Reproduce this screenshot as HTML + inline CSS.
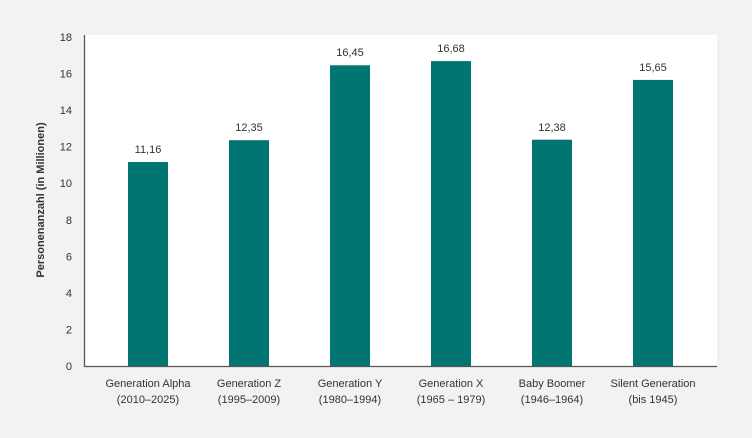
<!DOCTYPE html>
<html><head><meta charset="utf-8"><style>
html,body{margin:0;padding:0;background:#f3f2f0;}
svg{display:block;font-family:"Liberation Sans",sans-serif;}
</style></head><body>
<svg width="752" height="438" viewBox="0 0 752 438" xmlns="http://www.w3.org/2000/svg">
<rect x="0" y="0" width="752" height="438" fill="#f3f2f0"/>
<rect x="84" y="35" width="633" height="331" fill="#fff"/>
<g fill="#007572">
<rect x="128" y="162" width="40" height="204"/>
<rect x="229" y="140.2" width="40" height="225.8"/>
<rect x="330" y="65.3" width="40" height="300.7"/>
<rect x="431" y="61.1" width="40" height="304.9"/>
<rect x="532" y="139.7" width="40" height="226.3"/>
<rect x="633" y="79.9" width="40" height="286.1"/>
</g>
<path d="M84.5 35V366.5H717" stroke="#555" stroke-width="1.3" fill="none"/>
<g font-size="11" fill="#333" text-anchor="end">
<text x="72" y="370">0</text><text x="72" y="333.4">2</text><text x="72" y="296.9">4</text>
<text x="72" y="260.3">6</text><text x="72" y="223.8">8</text><text x="72" y="187.2">10</text>
<text x="72" y="150.7">12</text><text x="72" y="114.1">14</text><text x="72" y="77.6">16</text><text x="72" y="41">18</text>
</g>
<g font-size="11" fill="#333" text-anchor="middle">
<text x="148" y="153">11,16</text><text x="249" y="131">12,35</text><text x="350" y="56">16,45</text>
<text x="451" y="52">16,68</text><text x="552" y="131">12,38</text><text x="653" y="71">15,65</text>
<text x="148" y="387">Generation Alpha</text><text x="148" y="403">(2010–2025)</text>
<text x="249" y="387">Generation Z</text><text x="249" y="403">(1995–2009)</text>
<text x="350" y="387">Generation Y</text><text x="350" y="403">(1980–1994)</text>
<text x="451" y="387">Generation X</text><text x="451" y="403">(1965 – 1979)</text>
<text x="552" y="387">Baby Boomer</text><text x="552" y="403">(1946–1964)</text>
<text x="653" y="387">Silent Generation</text><text x="653" y="403">(bis 1945)</text>
</g>
<text transform="translate(44,200) rotate(-90)" font-size="11" font-weight="bold" fill="#333" text-anchor="middle">Personenanzahl (in Millionen)</text>
</svg>
</body></html>
